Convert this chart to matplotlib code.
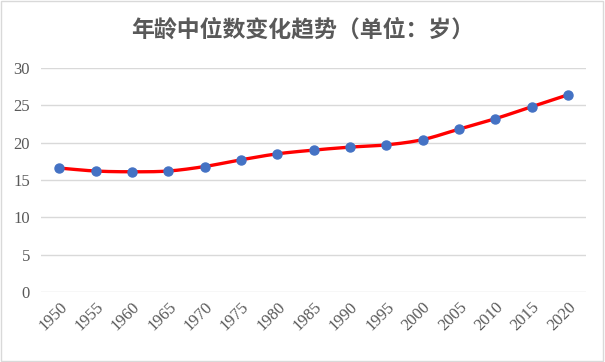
import numpy as np
import matplotlib.pyplot as plt
from matplotlib.patches import Rectangle

years = ['1950', '1955', '1960', '1965', '1970', '1975', '1980', '1985',
         '1990', '1995', '2000', '2005', '2010', '2015', '2020']
median_age = [16.6, 16.2, 16.1, 16.2, 16.8, 17.7, 18.5, 19.0,
              19.4, 19.7, 20.4, 21.8, 23.2, 24.8, 26.4]
y_ticks = [0, 5, 10, 15, 20, 25, 30]

title = '年龄中位数变化趋势（单位：岁）'
text_color = '#595959'


def smooth_curve(x, y, n=20):
    # Catmull-Rom style smoothing, like the spreadsheet "smoothed line"
    x = np.asarray(x, dtype=float)
    y = np.asarray(y, dtype=float)
    px = np.concatenate([[2 * x[0] - x[1]], x, [2 * x[-1] - x[-2]]])
    py = np.concatenate([[2 * y[0] - y[1]], y, [2 * y[-1] - y[-2]]])
    xs, ys = [], []
    t = np.linspace(0, 1, n, endpoint=False)
    for i in range(1, len(px) - 2):
        for arr, out in ((px, xs), (py, ys)):
            p0, p1, p2, p3 = arr[i - 1], arr[i], arr[i + 1], arr[i + 2]
            out.extend(0.5 * ((2 * p1) + (-p0 + p2) * t
                              + (2 * p0 - 5 * p1 + 4 * p2 - p3) * t ** 2
                              + (-p0 + 3 * p1 - 3 * p2 + p3) * t ** 3))
    xs.append(x[-1])
    ys.append(y[-1])
    return np.array(xs), np.array(ys)


fig = plt.figure(figsize=(6.05, 3.62), dpi=100)
ax = fig.add_axes([0.0678, 0.1934, 0.9008, 0.6188])

xpos = np.arange(len(years))
sx, sy = smooth_curve(xpos, median_age)
ax.plot(sx, sy, color='#ff0000', linewidth=2.4, solid_capstyle='round', zorder=3)
ax.plot(xpos, median_age, linestyle='none', marker='o', markersize=6.5,
        color='#4472c4', zorder=4)

ax.set_xlim(-0.5, len(years) - 0.5)
ax.set_ylim(0, 30)
ax.set_yticks(y_ticks)
ax.set_xticks(xpos)
ax.set_xticklabels(years, rotation=45, ha='right', va='top', rotation_mode='anchor')
ax.grid(axis='y', color='#d9d9d9', linewidth=1)
ax.set_axisbelow(True)
for s in ax.spines.values():
    s.set_visible(False)
ax.tick_params(length=0, labelsize=12, labelcolor=text_color)
ax.tick_params(axis='y', pad=8)
ax.tick_params(axis='x', pad=5)
for lbl in ax.get_xticklabels() + ax.get_yticklabels():
    lbl.set_family('Liberation Serif')
    lbl.set_color(text_color)

fig.text(0.5, 0.918, title, ha='center', va='center', fontsize=16.5,
         fontweight='bold', color=text_color,
         family=['Noto Sans CJK SC', 'DejaVu Sans'])

fig.patches.append(Rectangle((0.002, 0.003), 0.995, 0.994, transform=fig.transFigure,
                             fill=False, edgecolor='#d9d9d9', linewidth=1))

fig.savefig('out.png', dpi=100)
